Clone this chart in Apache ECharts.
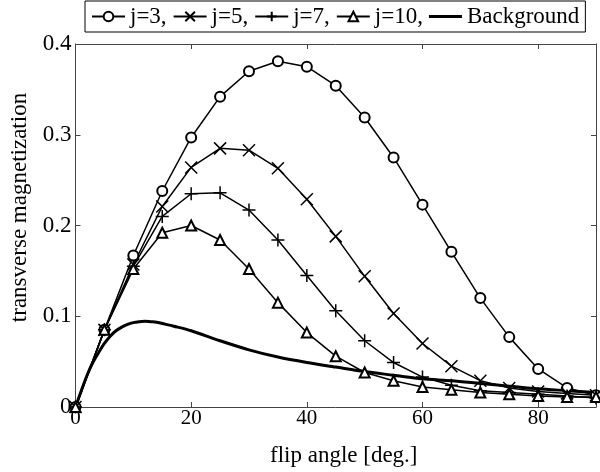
<!DOCTYPE html>
<html>
<head>
<meta charset="utf-8">
<script src="https://cdn.jsdelivr.net/npm/echarts@6/dist/echarts.min.js"></script>
<style>html,body{margin:0;padding:0;background:#fff}#c{width:600px;height:472px}</style>
</head>
<body>
<div id="c"></div>
<script>
var angles = [0,5,10,15,20,25,30,35,40,45,50,55,60,65,70,75,80,85,90];
var j3  = [0,0.085,0.167,0.238,0.297,0.342,0.370,0.381,0.375,0.354,0.319,0.275,0.223,0.171,0.120,0.077,0.042,0.021,0.013];
var j5  = [0,0.085,0.157,0.221,0.264,0.285,0.283,0.263,0.229,0.188,0.144,0.103,0.070,0.045,0.029,0.021,0.017,0.015,0.013];
var j7  = [0,0.085,0.155,0.210,0.235,0.236,0.217,0.184,0.145,0.106,0.073,0.049,0.033,0.024,0.018,0.016,0.014,0.012,0.010];
var j10 = [0,0.085,0.152,0.192,0.200,0.184,0.152,0.115,0.082,0.056,0.038,0.029,0.022,0.019,0.016,0.014,0.012,0.011,0.011];
var bgAngles = [0,1,2,3,4,5,6,7,8,9,10,11,12,13,14,15,17,20,25,30,35,40,45,50,55,60,65,70,75,80,85,90];
var bgValues = [0,0.018,0.035,0.049,0.060,0.070,0.078,0.084,0.088,0.091,0.093,0.094,0.0945,0.094,0.0935,0.092,0.089,0.084,0.073,0.063,0.055,0.049,0.044,0.039,0.035,0.031,0.029,0.026,0.023,0.020,0.018,0.016];
var legendNames = ['j=3,','j=5,','j=7,','j=10,','Background'];

function pairs(xs, ys){ return xs.map(function(x,i){ return [x, ys[i]]; }); }
var FONT = 'Liberation Serif';
var axisCol = '#444';

function mkSeries(name, data, symbol, size){
  return {
    name: name, type: 'line', data: data,
    symbol: symbol, symbolSize: size, showAllSymbol: true,
    lineStyle: {color:'#000', width:1.5},
    itemStyle: {color:'#000', borderColor:'#000', borderWidth:1.5},
    emphasis: {disabled:true},
    animation: false, z: 3
  };
}

var bgIcon = 'path://M0,0L0,0M0,4.5L33,4.5L33,7.5L0,7.5ZM33,12L33,12';

var chart = echarts.init(document.getElementById('c'), null, {renderer:'canvas'});
chart.setOption({
  backgroundColor: '#fff',
  animation: false,
  textStyle: {fontFamily: FONT, color:'#000'},
  grid: {left: 75.5, right: 4, top: 44, bottom: 64},
  legend: {
    top: 1, left: 85,
    data: [
      {name: legendNames[0]}, {name: legendNames[1]}, {name: legendNames[2]}, {name: legendNames[3]},
      {name: legendNames[4], icon: bgIcon}
    ],
    itemWidth: 33, itemHeight: 12, itemGap: 6,
    padding: [4, 6, 4, 6],
    borderColor: '#000', borderWidth: 1, backgroundColor: '#fff',
    textStyle: {fontFamily: FONT, fontSize: 23, color:'#000'},
    selectedMode: false
  },
  xAxis: [{
    type: 'value', min: 0, max: 90, interval: 20,
    name: 'flip angle [deg.]', nameLocation: 'middle', nameGap: 37,
    nameTextStyle: {fontFamily: FONT, fontSize: 23, color:'#000', padding: [0,0,0,16]},
    axisLine: {show: true, onZero:false, lineStyle: {color: axisCol, width: 1}},
    axisTick: {show: true, inside: true, length: 5, lineStyle: {color: axisCol}},
    axisLabel: {fontFamily: FONT, fontSize: 21, color:'#000', margin: 1,
      formatter: function(v){ return v % 20 === 0 ? String(v) : ''; }},
    splitLine: {show: false}
  },{
    type: 'value', min: 0, max: 90, interval: 20, position: 'top',
    axisLine: {show: true, onZero:false, lineStyle: {color: axisCol, width: 1}},
    axisTick: {show: true, inside: true, length: 5, lineStyle: {color: axisCol}},
    axisLabel: {show: false}, splitLine: {show: false}
  }],
  yAxis: [{
    type: 'value', min: 0, max: 0.4, interval: 0.1,
    name: 'transverse magnetization', nameLocation: 'middle', nameGap: 42,
    nameTextStyle: {fontFamily: FONT, fontSize: 23, color:'#000', padding: [0,0,0,36]},
    axisLine: {show: true, onZero:false, lineStyle: {color: axisCol, width: 1}},
    axisTick: {show: true, inside: true, length: 5, lineStyle: {color: axisCol}},
    axisLabel: {fontFamily: FONT, fontSize: 23, color:'#000', margin: 4,
      formatter: function(v){ return v === 0 ? '0' : v.toFixed(1); }},
    splitLine: {show: false}
  },{
    type: 'value', min: 0, max: 0.4, interval: 0.1, position: 'right',
    axisLine: {show: true, onZero:false, lineStyle: {color: axisCol, width: 1}},
    axisTick: {show: true, inside: true, length: 5, lineStyle: {color: axisCol}},
    axisLabel: {show: false}, splitLine: {show: false}
  }],
  series: [
    mkSeries(legendNames[0], pairs(angles, j3), 'emptyCircle', 10),
    mkSeries(legendNames[1], pairs(angles, j5), 'path://M0,0L10,10M10,0L0,10', 12),
    mkSeries(legendNames[2], pairs(angles, j7), 'path://M5,0L5,10M0,5L10,5', 13),
    mkSeries(legendNames[3], pairs(angles, j10), 'emptyTriangle', 10),
    {
      name: legendNames[4], type: 'line', data: pairs(bgAngles, bgValues),
      symbol: 'none', smooth: 0.3,
      lineStyle: {color:'#000', width: 3},
      itemStyle: {color:'#000'},
      emphasis: {disabled:true}, animation:false, z: 2
    }
  ]
});
</script>
</body>
</html>
